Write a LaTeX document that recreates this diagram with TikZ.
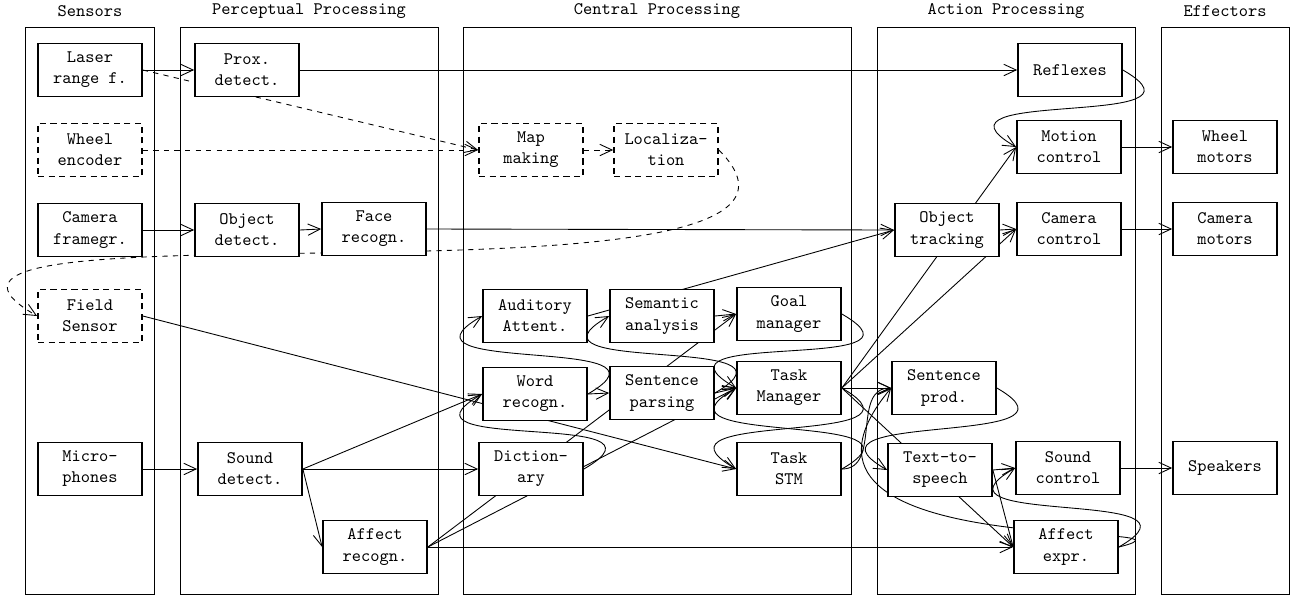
\documentclass[tikz,border=0pt]{standalone}
\usepackage{tikz}
\usetikzlibrary{arrows.meta,backgrounds}
\tikzset{
  box/.style={draw,line width=1pt,fill=white,minimum width=2.08cm,minimum height=1.06cm,align=center,font=\ttfamily,inner sep=1pt},
  dbox/.style={box,dash pattern=on 3.5pt off 2.5pt},
  lane/.style={draw,line width=0.5pt},
  title/.style={font=\ttfamily},
  link/.style={line width=0.5pt,-{Straight Barb[length=7pt,width=6.5pt]}},
  dlink/.style={link,dashed},
  backdown/.style={out=-30,in=150,distance=2.4cm},
  backup/.style={out=30,in=-150,distance=2.4cm},
}
\begin{document}
\begin{tikzpicture}[x=0.02cm,y=-0.02cm]
	\useasboundingbox (0,0) rectangle (1291,596);
	\node[title] (tsens) at (90,11) {Sensors};
	\node[title] (tperc) at (309,11) {Perceptual Processing};
	\node[title] (tcent) at (657,11) {Central Processing};
	\node[title] (tact) at (1006,11) {Action Processing};
	\node[title] (teff) at (1225,11) {Effectors};
	\node[box] (laser) at (90,70) {Laser\\range f.};
	\node[box] (prox) at (247,70) {Prox.\\detect.};
	\node[dbox] (wheelenc) at (90,150) {Wheel\\encoder};
	\node[dbox] (mapmake) at (531,150) {Map\\making};
	\node[dbox] (local) at (666,150) {Localiza-\\tion};
	\node[box] (reflex) at (1070,70) {Reflexes};
	\node[box] (motion) at (1069,147) {Motion\\control};
	\node[box] (wheelmot) at (1225,147) {Wheel\\motors};
	\node[box] (camera) at (90,230) {Camera\\framegr.};
	\node[box] (objdet) at (247,230) {Object\\detect.};
	\node[box] (face) at (374,229) {Face\\recogn.};
	\node[dbox] (field) at (90,316) {Field\\Sensor};
	\node[box] (objtrack) at (947,230) {Object\\tracking};
	\node[box] (camctrl) at (1069,229) {Camera\\control};
	\node[box] (cammot) at (1225,229) {Camera\\motors};
	\node[box] (audatt) at (535,316) {Auditory\\Attent.};
	\node[box] (semantic) at (662,316) {Semantic\\analysis};
	\node[box] (goal) at (789,314) {Goal\\manager};
	\node[box] (wordrec) at (535,394) {Word\\recogn.};
	\node[box] (parsing) at (662,393) {Sentence\\parsing};
	\node[box] (taskman) at (789,388) {Task\\Manager};
	\node[box] (dict) at (531,469) {Diction-\\ary};
	\node[box] (taskstm) at (789,469) {Task\\STM};
	\node[box] (sentprod) at (944,388) {Sentence\\prod.};
	\node[box] (tts) at (940,470) {Text-to-\\speech};
	\node[box] (soundctrl) at (1068,468) {Sound\\control};
	\node[box] (speakers) at (1225,468) {Speakers};
	\node[box] (affexpr) at (1066,547) {Affect\\expr.};
	\node[box] (micro) at (90,469) {Micro-\\phones};
	\node[box] (sounddet) at (250,469) {Sound\\detect.};
	\node[box] (affrec) at (375,547) {Affect\\recogn.};
	\begin{scope}[on background layer]
		\draw[lane] (25,27) rectangle (154,594);
		\draw[lane] (180,27) rectangle (438,594);
		\draw[lane] (463,27) rectangle (851,594);
		\draw[lane] (877,27) rectangle (1135,594);
		\draw[lane] (1161,27) rectangle (1289,594);
		\draw[link] (laser.east) -- (prox.west);
		\draw[dlink] (laser.east) -- (mapmake.west);
		\draw[dlink] (wheelenc.east) -- (mapmake.west);
		\draw[dlink] (mapmake.east) -- (local.west);
		\draw[dlink] (local.east) to[out=-45,in=150,distance=5cm] (field.west);
		\draw[link] (prox.east) -- (reflex.west);
		\draw[link] (camera.east) -- (objdet.west);
		\draw[link] (objdet.east) -- (face.west);
		\draw[link] (face.east) -- (objtrack.west);
		\draw[link] (micro.east) -- (sounddet.west);
		\draw[link] (sounddet.east) -- (wordrec.west);
		\draw[link] (sounddet.east) -- (dict.west);
		\draw[link] (sounddet.east) -- (affrec.west);
		\draw[link] (field.east) -- (taskstm.west);
		\draw[link] (audatt.east) -- (objtrack.west);
		\draw[link] (wordrec.east) -- (parsing.west);
		\draw[link] (wordrec.east) to[backup] (audatt.west);
		\draw[link] (dict.east) to[backup] (wordrec.west);
		\draw[link] (semantic.east) -- (goal.west);
		\draw[link] (parsing.east) to[backup] (semantic.west);
		\draw[link] (parsing.east) -- (taskman.west);
		\draw[link] (affrec.east) -- (goal.west);
		\draw[link] (affrec.east) -- (taskman.west);
		\draw[link] (affrec.east) -- (affexpr.west);
		\draw[link] (goal.east) to[backdown] (taskman.west);
		\draw[link] (taskman.east) to[backdown] (taskstm.west);
		\draw[link] (taskstm.east) to[backup] (taskman.west);
		\draw[link] (taskstm.east) to[out=0,in=180,distance=0.8cm] (sentprod.west);
		\draw[link] (taskman.east) -- (sentprod.west);
		\draw[link] (taskman.east) -- (motion.west);
		\draw[link] (taskman.east) -- (camctrl.west);
		\draw[link] (taskman.east) -- (affexpr.west);
		\draw[link] (objtrack.east) -- (camctrl.west);
		\draw[link] (reflex.east) to[backdown] (motion.west);
		\draw[link] (motion.east) -- (wheelmot.west);
		\draw[link] (camctrl.east) -- (cammot.west);
		\draw[link] (soundctrl.east) -- (speakers.west);
		\draw[link] (sentprod.east) to[backdown] (tts.west);
		\draw[link] (tts.east) -- (soundctrl.west);
		\draw[link] (tts.east) -- (affexpr.west);
		\draw[link] (affexpr.east) to[backup] (soundctrl.west);
		\draw[link] (affexpr.east) to[out=14,in=230,out distance=2.3cm,in distance=4.7cm] (sentprod.west);
	\end{scope}
\end{tikzpicture}
\end{document}
